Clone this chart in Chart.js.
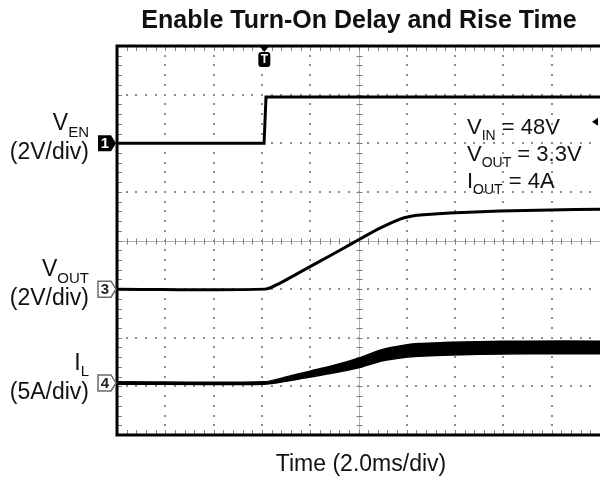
<!DOCTYPE html>
<html>
<head>
<meta charset="utf-8">
<script src="https://cdn.jsdelivr.net/npm/chart.js@4.4.0/dist/chart.umd.min.js"></script>
<style>
  html, body { margin: 0; padding: 0; background: #fff; }
</style>
</head>
<body>
<canvas id="scope" width="600" height="480"></canvas>
<script>
// time base: 10 div x 2.0 ms, trigger at ~6.1 ms
const triggerTime = 6.1

// CH1 - enable (V)
const timeEn = [0, 6.09, 6.17, 20]
const vEn = [0, 0, 1.9, 1.9]

// CH3 - output voltage (V)
const timeOut = [0, 6.13, 6.75, 7.58, 8.41, 9.23, 10.06, 10.89, 11.72, 12.13, 12.55, 13.79, 15.86, 17.93, 20]
const vOut = [0, 0, 0.25, 0.70, 1.15, 1.60, 2.06, 2.51, 2.88, 2.99, 3.05, 3.13, 3.21, 3.25, 3.29]

// CH4 - inductor current (A), upper / lower edge of the noisy band
const timeIl = [0, 6.1, 7, 8, 9, 10, 11, 12, 12.5, 13.5, 15, 17, 20]
const ilHigh = [0.12, 0.12, 0.62, 1.22, 1.82, 2.55, 3.45, 3.92, 4.05, 4.15, 4.25, 4.30, 4.30]
const ilLow = [-0.12, -0.12, 0.18, 0.62, 1.04, 1.56, 2.28, 2.66, 2.75, 2.85, 2.95, 3.00, 3.00]

// channel marker position (div from bottom) and scale (units/div)
const channels = [
  { id: '1', offset: 6.0, perDiv: 2, filled: true, label: ['V', 'EN'], scaleText: '(2V/div)' },
  { id: '3', offset: 3.0, perDiv: 2, filled: false, label: ['V', 'OUT'], scaleText: '(2V/div)' },
  { id: '4', offset: 1.07, perDiv: 5, filled: false, label: ['I', 'L'], scaleText: '(5A/div)' }
]
const triggerLevel = 0.88

const notes = [
  [['V', 'IN'], ' = 48V'],
  [['V', 'OUT'], ' = 3.3V'],
  [['I', 'OUT'], ' = 4A']
]

function toDiv(times, values, ch) {
  return times.map((t, i) => ({ x: t, y: ch.offset + values[i] / ch.perDiv }))
}

const FONT = '"Liberation Sans", Arial, sans-serif'

function subWidth(ctx, main, sub, size) {
  ctx.font = size + 'px ' + FONT
  const w1 = ctx.measureText(main).width
  ctx.font = Math.round(size * 0.64) + 'px ' + FONT
  return w1 + ctx.measureText(sub).width
}

function drawSub(ctx, x, y, main, sub, size) {
  ctx.textAlign = 'left'
  ctx.textBaseline = 'alphabetic'
  ctx.font = size + 'px ' + FONT
  ctx.fillText(main, x, y)
  const w = ctx.measureText(main).width
  ctx.font = Math.round(size * 0.64) + 'px ' + FONT
  ctx.fillText(sub, x + w, y + size * 0.28)
  return x + w + ctx.measureText(sub).width
}

const graticule = {
  id: 'graticule',
  beforeDatasetsDraw(chart) {
    const { ctx, chartArea: a, scales: { x, y } } = chart
    ctx.save()
    ctx.fillStyle = '#8c8c8c'
    // dotted major lines
    for (let i = 1; i < 10; i++) {
      if (i === 5) continue
      const px = Math.round(x.getPixelForValue(i * 2))
      for (let k = 1; k < 40; k++) {
        const py = Math.round(y.getPixelForValue(k * 0.2))
        ctx.fillRect(px - 1, py - 1, 2, 2)
      }
    }
    for (let j = 1; j < 8; j++) {
      if (j === 4) continue
      const py = Math.round(y.getPixelForValue(j))
      for (let m = 1; m < 50; m++) {
        const px = Math.round(x.getPixelForValue(m * 0.4))
        ctx.fillRect(px - 1, py - 1, 2, 2)
      }
    }
    // center cross
    const cx = Math.round(x.getPixelForValue(10)) + 0.5
    const cy = Math.round(y.getPixelForValue(4)) + 0.5
    ctx.strokeStyle = '#b4b4b4'
    ctx.lineWidth = 1
    ctx.beginPath()
    ctx.moveTo(cx, a.top); ctx.lineTo(cx, a.bottom)
    ctx.moveTo(a.left, cy); ctx.lineTo(a.right, cy)
    ctx.stroke()
    ctx.strokeStyle = '#808080'
    ctx.beginPath()
    for (let m = 1; m < 50; m++) {
      const px = Math.round(x.getPixelForValue(m * 0.4)) + 0.5
      ctx.moveTo(px, cy - 3); ctx.lineTo(px, cy + 3)
      ctx.moveTo(px, a.top); ctx.lineTo(px, a.top + 5)
      ctx.moveTo(px, a.bottom); ctx.lineTo(px, a.bottom - 5)
    }
    for (let k = 1; k < 40; k++) {
      const py = Math.round(y.getPixelForValue(k * 0.2)) + 0.5
      ctx.moveTo(cx - 3, py); ctx.lineTo(cx + 3, py)
      ctx.moveTo(a.left, py); ctx.lineTo(a.left + 5, py)
    }
    ctx.stroke()
    ctx.restore()
  },
  afterDatasetsDraw(chart) {
    const { ctx, chartArea: a, scales: { x, y } } = chart
    ctx.save()
    // frame
    ctx.strokeStyle = '#000'
    ctx.lineWidth = 3
    ctx.beginPath()
    ctx.moveTo(a.right + 2, a.top); ctx.lineTo(a.left, a.top)
    ctx.lineTo(a.left, a.bottom); ctx.lineTo(a.right + 2, a.bottom)
    ctx.stroke()

    // trigger marker
    const tx = x.getPixelForValue(triggerTime)
    ctx.fillStyle = '#000'
    ctx.beginPath()
    ctx.moveTo(tx - 5, a.top); ctx.lineTo(tx + 5, a.top); ctx.lineTo(tx, a.top + 6)
    ctx.fill()
    ctx.beginPath()
    ctx.roundRect(tx - 6, a.top + 6, 12, 15, 3)
    ctx.fill()
    ctx.fillStyle = '#fff'
    ctx.font = 'bold 12px ' + FONT
    ctx.textAlign = 'center'
    ctx.textBaseline = 'middle'
    ctx.fillText('T', tx, a.top + 14)

    // trigger level arrow
    const ly = y.getPixelForValue(channels[0].offset + triggerLevel / channels[0].perDiv)
    ctx.fillStyle = '#000'
    ctx.beginPath()
    ctx.moveTo(a.right - 8, ly); ctx.lineTo(a.right - 2, ly - 4); ctx.lineTo(a.right - 2, ly + 4)
    ctx.fill()

    // channel markers and labels
    channels.forEach(ch => {
      const py = y.getPixelForValue(ch.offset)
      const r = a.left - 1, l = a.left - 19
      ctx.beginPath()
      ctx.moveTo(l, py - 8); ctx.lineTo(r - 5, py - 8); ctx.lineTo(r, py)
      ctx.lineTo(r - 5, py + 8); ctx.lineTo(l, py + 8); ctx.closePath()
      ctx.lineWidth = 1.5
      if (ch.filled) {
        ctx.fillStyle = '#000'; ctx.fill()
        ctx.fillStyle = '#fff'
      } else {
        ctx.fillStyle = '#fff'; ctx.fill()
        ctx.strokeStyle = '#6a6a6a'; ctx.stroke()
        ctx.fillStyle = '#222'
      }
      ctx.font = 'bold 15px ' + FONT
      ctx.textAlign = 'center'
      ctx.textBaseline = 'middle'
      ctx.fillText(ch.id, l + 7, py + 1)

      ctx.fillStyle = '#111'
      const size = 23
      const right = 89
      const w = subWidth(ctx, ch.label[0], ch.label[1], size)
      drawSub(ctx, right - w, py - 13, ch.label[0], ch.label[1], size)
      ctx.font = size + 'px ' + FONT
      ctx.textAlign = 'right'
      ctx.textBaseline = 'alphabetic'
      ctx.fillText(ch.scaleText, right, py + 16)
    })

    // test conditions
    ctx.fillStyle = '#111'
    notes.forEach((n, i) => {
      const end = drawSub(ctx, 467, 134 + i * 27, n[0][0], n[0][1], 22)
      ctx.font = '22px ' + FONT
      ctx.fillText(n[1], end, 134 + i * 27)
    })

    // title and time base
    ctx.textAlign = 'center'
    ctx.textBaseline = 'middle'
    ctx.font = 'bold 25px ' + FONT
    ctx.fillText('Enable Turn-On Delay and Rise Time', 359, 21)
    ctx.font = '23px ' + FONT
    ctx.fillText('Time (2.0ms/div)', 361, 465)
    ctx.restore()
  }
}

const line = { borderColor: '#000', pointRadius: 0, tension: 0.3, fill: false }

new Chart(document.getElementById('scope'), {
  type: 'line',
  data: {
    datasets: [
      { ...line, data: toDiv(timeEn, vEn, channels[0]), borderWidth: 3, tension: 0 },
      { ...line, data: toDiv(timeOut, vOut, channels[1]), borderWidth: 3 },
      { ...line, data: toDiv(timeIl, ilHigh, channels[2]), borderWidth: 1.5 },
      { ...line, data: toDiv(timeIl, ilLow, channels[2]), borderWidth: 1.5, fill: '-1', backgroundColor: '#000' }
    ]
  },
  options: {
    responsive: false,
    animation: false,
    layout: { padding: { left: 117, top: 46, right: 0, bottom: 45 } },
    scales: {
      x: { type: 'linear', min: 0, max: 20, display: false },
      y: { min: 0, max: 8, display: false }
    },
    plugins: { legend: { display: false }, tooltip: { enabled: false }, title: { display: false } }
  },
  plugins: [graticule]
})
</script>
</body>
</html>
